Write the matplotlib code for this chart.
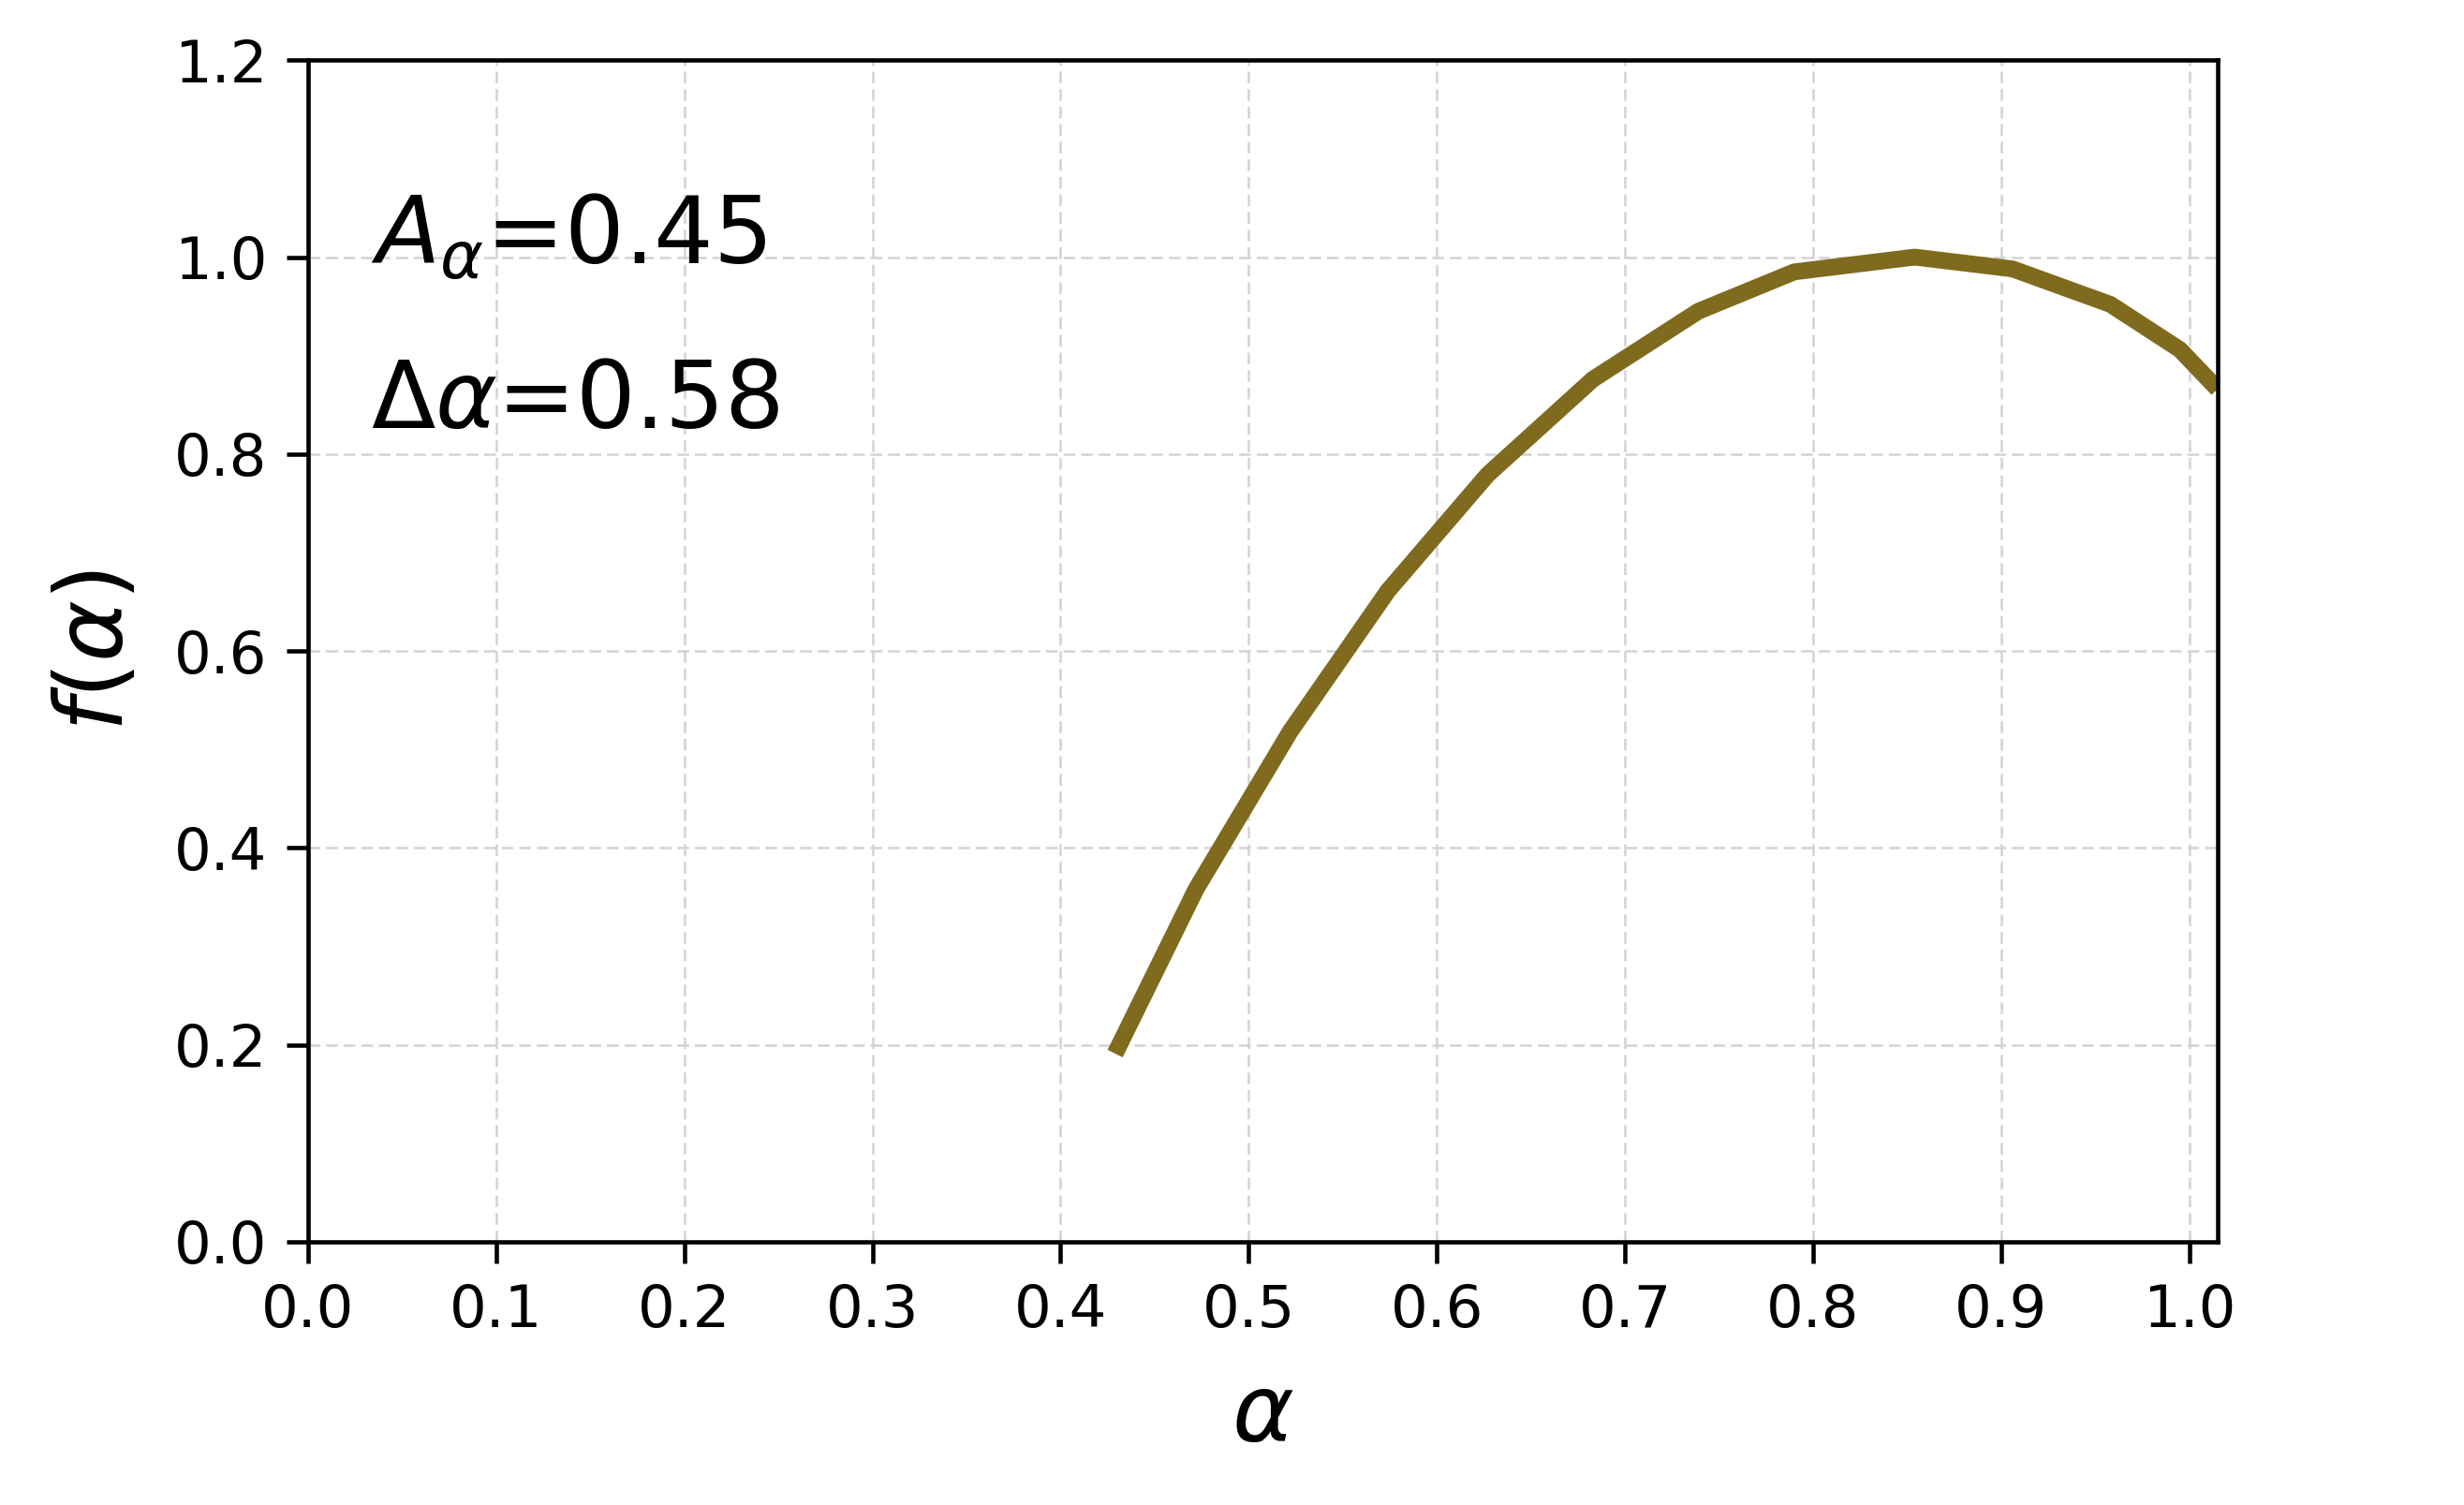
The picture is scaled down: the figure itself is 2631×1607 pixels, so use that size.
import matplotlib
matplotlib.use('Agg')
import matplotlib.pyplot as plt
import numpy as np

# values
alpha = [0.429, 0.472, 0.522, 0.574, 0.627, 0.683, 0.739, 0.790, 0.854, 0.906, 0.958, 0.995, 1.015]
f_alpha = [0.191, 0.358, 0.518, 0.661, 0.779, 0.876, 0.945, 0.985, 1.000, 0.988, 0.952, 0.906, 0.866]
x_ticks = [0.0, 0.1, 0.2, 0.3, 0.4, 0.5, 0.6, 0.7, 0.8, 0.9, 1.0]
y_ticks = [0.0, 0.2, 0.4, 0.6, 0.8, 1.0, 1.2]
A_alpha = 0.45
d_alpha = 0.58

fig = plt.figure(figsize=(2631 / 300, 1607 / 300), dpi=300)
ax = fig.add_axes([0.125, 0.175, 0.775, 0.785])

ax.plot(alpha, f_alpha, color='#7f6a1e', linewidth=4.3, solid_capstyle='butt')

ax.set_xlim(0, max(alpha))
ax.set_ylim(0, 1.2)
ax.set_xticks(x_ticks)
ax.set_yticks(y_ticks)
ax.set_xticklabels([f'{v:.1f}' for v in x_ticks])
ax.set_yticklabels([f'{v:.1f}' for v in y_ticks])
ax.tick_params(labelsize=15, length=5.5, width=1.1, pad=5)
for s in ax.spines.values():
    s.set_linewidth(1.1)

ax.grid(True, linestyle=(0, (5, 2.5)), color='#d3d3d3', linewidth=0.6)
ax.set_axisbelow(True)

ax.set_xlabel(r'$\alpha$', fontsize=24, labelpad=8)
ax.set_ylabel(r'$f(\alpha)$', fontsize=24, labelpad=8)

ax.text(0.033, 0.828, r'$A_{\alpha}$=' + f'{A_alpha:.2f}', transform=ax.transAxes, fontsize=24)
ax.text(0.033, 0.689, r'$\Delta\alpha$=' + f'{d_alpha:.2f}', transform=ax.transAxes, fontsize=24)

fig.savefig('out.png', dpi=300)
